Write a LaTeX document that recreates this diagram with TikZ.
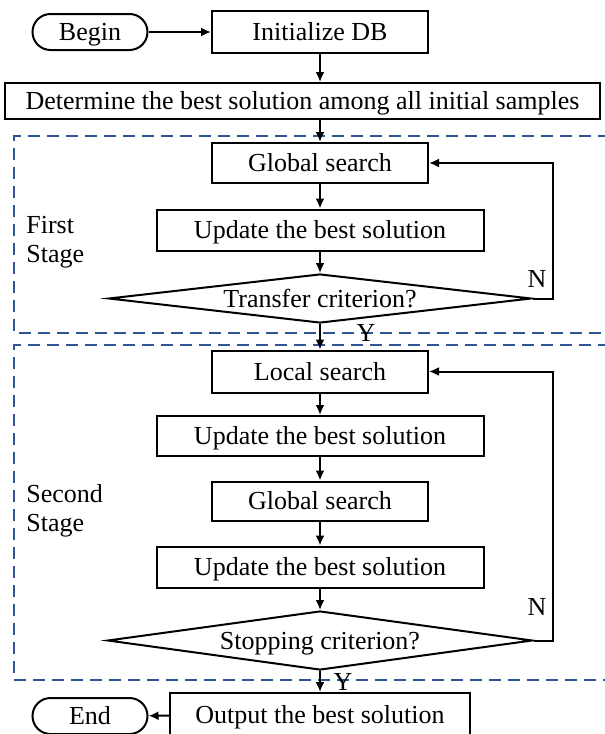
\documentclass[tikz,border=0pt]{standalone}
\usepackage{fontspec}
\setmainfont{Liberation Serif}
\usetikzlibrary{shapes.geometric,arrows.meta}
\definecolor{stageblue}{RGB}{47,85,151}

\begin{document}
\begin{tikzpicture}[x=1pt, y=-1pt, >={Latex[length=10pt,width=9pt]}, line width=2pt,
    font=\fontsize{26}{29}\selectfont,
    txt/.style={text height=20pt, text depth=3pt},
    proc/.style={draw, rectangle, txt, inner sep=0pt, minimum height=39pt},
    term/.style={draw, rectangle, txt, rounded corners=18pt, inner sep=0pt,
                 minimum width=115pt, minimum height=36pt},
    decision/.style={draw, diamond, inner sep=0pt},
    stage/.style={draw=stageblue, dash pattern=on 12pt off 7pt, line width=2.4pt},
    flow/.style={->}]
    \useasboundingbox (0,0) rectangle (605,734);

    % Stage frames (open on the right)
    \draw[stage] (610,136) -| (14,333) -- (610,333);
    \draw[stage] (610,345) -| (14,680) -- (610,680);
    \node[align=left, anchor=west] (firstlbl) at (22,242) {First\\Stage};
    \node[align=left, anchor=west] (secondlbl) at (22,511) {Second\\Stage};

    % Start and initialisation
    \node[term] (begin) at (90,32) {Begin};
    \node[proc, minimum width=216pt, minimum height=42pt] (init) at (320,32) {Initialize DB};
    \node[proc, minimum width=595pt, minimum height=36pt] (best) at (302.5,101)
        {Determine the best solution among all initial samples};

    % First stage
    \node[proc, minimum width=216pt, minimum height=40pt] (gsa) at (320,163) {Global search};
    \node[proc, minimum width=327pt, minimum height=41pt] (upa) at (320,230) {Update the best solution};
    \node[decision, minimum width=423pt, minimum height=49pt] (transfer) at (320,298.5) {};
    \node[txt] (transfertxt) at (transfer) {Transfer criterion?};

    % Second stage
    \node[proc, minimum width=216pt, minimum height=42pt] (ls) at (320,371.5) {Local search};
    \node[proc, minimum width=327pt, minimum height=40pt] (upb) at (320,436) {Update the best solution};
    \node[proc, minimum width=216pt, minimum height=39pt] (gsb) at (320,501) {Global search};
    \node[proc, minimum width=327pt, minimum height=41pt] (upc) at (320,567) {Update the best solution};
    \node[decision, minimum width=425pt, minimum height=59pt] (stopping) at (320,640.5) {};
    \node[txt] (stoppingtxt) at (stopping) {Stopping criterion?};

    % Output and end
    \node[proc, minimum width=300pt, minimum height=44pt] (output) at (320,715) {Output the best solution};
    \node[term] (end) at (90,716) {End};

    % Main flow
    \draw[flow] (begin) -- (begin -| init.west);
    \draw[flow] (init) -- (init |- best.north);
    \draw[flow] (init |- best.south) -- (gsa);
    \draw[flow] (gsa) -- (upa);
    \draw[flow] (upa) -- (transfer);
    \draw[flow] (transfer) -- (ls);
    \draw[flow] (ls) -- (upb);
    \draw[flow] (upb) -- (gsb);
    \draw[flow] (gsb) -- (upc);
    \draw[flow] (upc) -- (stopping);
    \draw[flow] (stopping) -- (output);
    \draw[flow] (output) -- (end);

    % Feedback loops
    \coordinate (loopx) at (553,0);
    \draw[flow] (transfer.east) -- (transfer.east -| loopx) |- (gsa.east);
    \draw[flow] (stopping.east) -- (stopping.east -| loopx) |- (ls.east);
    \node (na) at (537,279) {N};
    \node (nb) at (537,607) {N};
    \node (ya) at (366,333) {Y};
    \node (yb) at (343,682) {Y};
\end{tikzpicture}
\end{document}
